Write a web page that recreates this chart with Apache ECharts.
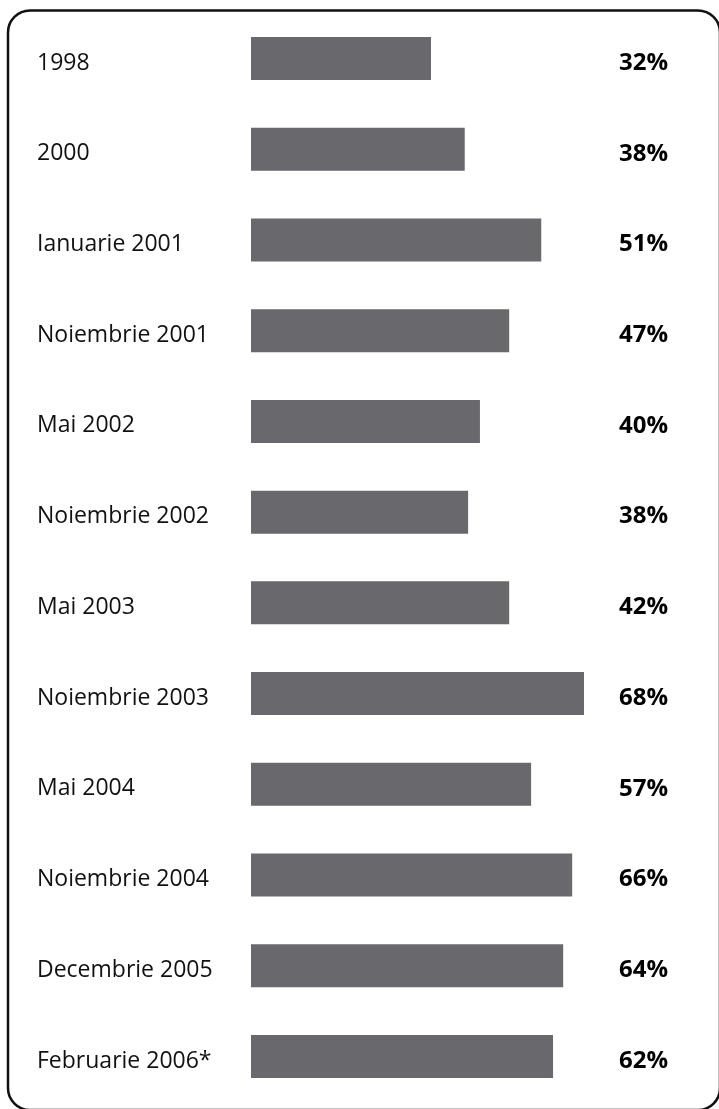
<!DOCTYPE html>
<html>
<head>
<meta charset="utf-8">
<script src="https://cdn.jsdelivr.net/npm/echarts@6/dist/echarts.min.js"></script>
<style>
  html, body { margin: 0; padding: 0; background: #ffffff; }
  #chart { width: 719px; height: 1109px; }
</style>
</head>
<body>
<div id="chart"></div>
<script>
// Period labels (rows, top to bottom)
const categories = [
  '1998', '2000', 'Ianuarie 2001', 'Noiembrie 2001', 'Mai 2002', 'Noiembrie 2002',
  'Mai 2003', 'Noiembrie 2003', 'Mai 2004', 'Noiembrie 2004', 'Decembrie 2005', 'Februarie 2006*'
];
// Percentages printed at the right of each row
const percentLabels = [32, 38, 51, 47, 40, 38, 42, 68, 57, 66, 64, 62];
const barLengths = [32, 38, 51.6, 45.9, 40.7, 38.6, 45.9, 59.2, 49.8, 57.1, 55.5, 53.7];

const chart = echarts.init(document.getElementById('chart'), null, { renderer: 'canvas' });

const option = {
  animation: false,
  backgroundColor: '#ffffff',
  graphic: [{
    type: 'rect',
    shape: { x: 8, y: 10.5, width: 712, height: 1099.5, r: 22 },
    style: { fill: 'none', stroke: '#111111', lineWidth: 2.5 },
    silent: true,
    z: -1
  }],
  grid: { left: 251, top: 13.1, width: 419.06, height: 1088.8, containLabel: false },
  xAxis: {
    type: 'value', min: 0, max: 74.5,
    show: false
  },
  yAxis: [{
    type: 'category',
    data: categories,
    inverse: true,
    position: 'left',
    axisLine: { show: false },
    axisTick: { show: false },
    splitLine: { show: false },
    axisLabel: {
      align: 'left',
      verticalAlign: 'top',
      lineHeight: 9,
      margin: 214,
      fontFamily: 'Open Sans',
      fontSize: 23,
      color: '#111111'
    }
  }, {
    type: 'category',
    data: percentLabels.map(v => v + '%'),
    inverse: true,
    position: 'right',
    axisLine: { show: false },
    axisTick: { show: false },
    splitLine: { show: false },
    axisLabel: {
      align: 'right',
      verticalAlign: 'top',
      lineHeight: 9,
      margin: -2.06,
      fontFamily: 'Open Sans',
      fontWeight: 'bold',
      fontSize: 24,
      color: '#000000'
    }
  }],
  series: [{
    type: 'bar',
    yAxisIndex: 0,
    data: barLengths,
    barWidth: 43,
    itemStyle: { color: '#69686d' },
    silent: true
  }]
};
chart.setOption(option);
</script>
</body>
</html>
